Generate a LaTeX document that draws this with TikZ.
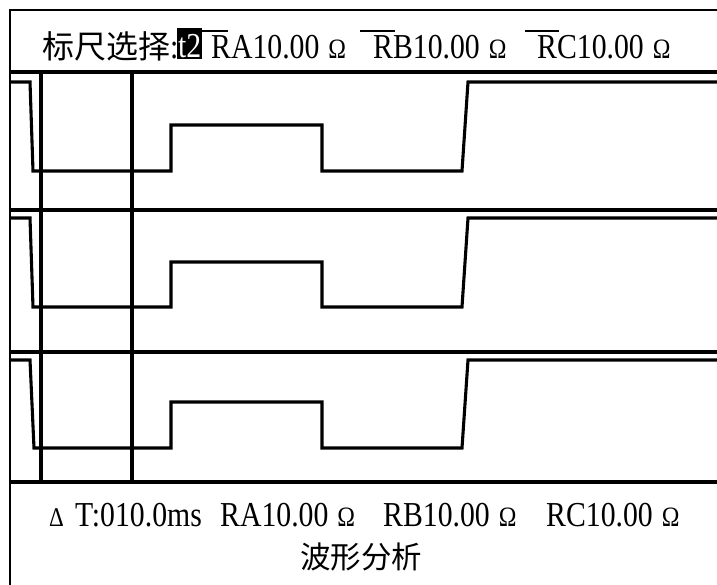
\documentclass[tikz,border=0pt]{standalone}
\usepackage{fontspec}
\setmainfont{Liberation Serif}[FakeStretch=0.85]
\newfontfamily\cjk{Noto Sans CJK SC}
\tikzset{
    frame/.style={
        line width=1.4pt,
        draw=black,
    },
    divider/.style={
        line width=3.4pt,
        draw=black,
    },
    cursor/.style={
        line width=3.2pt,
        draw=black,
    },
    wave/.style={
        line width=3.1pt,
        draw=black,
        line join=miter,
    },
    bar/.style={
        line width=2.8pt,
        draw=black,
    },
    readout/.style={
        anchor=base west,
        inner sep=0pt,
        font=\fontsize{35}{38}\selectfont,
    },
    small/.style={
        anchor=base west,
        inner sep=0pt,
        font=\fontsize{27}{30}\selectfont,
    },
    hanzi/.style={
        anchor=base west,
        inner sep=0pt,
        font=\cjk\fontsize{32}{36}\selectfont,
    },
}
\newcommand{\ohmsign}{{\fontsize{28}{30}\selectfont Ω}}

\begin{document}
\begin{tikzpicture}[x=1pt, y=-1pt]
      \useasboundingbox (0,0) rectangle (717,585);

      \draw[frame] (717,10) -- (10,10) -- (10,585);

      \draw[divider] (10,72) -- (717,72);
      \draw[divider] (10,210) -- (717,210);
      \draw[divider] (10,352) -- (717,352);
      \draw[divider] (10,482) -- (717,482);

      \draw[cursor] (41,72) -- (41,482);
      \draw[cursor] (132,72) -- (132,482);

      \draw[wave] (10,82) -- (30,82) -- (33,171) -- (171,171) -- (171,125) -- (322,125)
            -- (322,171) -- (462,171) -- (468,82) -- (717,82);
      \draw[wave] (10,218) -- (30,218) -- (33,307) -- (171,307) -- (171,262) -- (322,262)
            -- (322,307) -- (462,307) -- (468,218) -- (717,218);
      \draw[wave] (10,360) -- (30,360) -- (34,448) -- (171,448) -- (171,402) -- (322,402)
            -- (322,448) -- (462,448) -- (468,360) -- (717,360);

      \node[hanzi] (title) at (42,59) {标尺选择{\rmfamily\fontsize{35}{38}\selectfont :}};
      \node[readout, fill=black, text=white, inner xsep=1pt, text height=30pt, text depth=1pt] (sel) at (177,58) {t2};
      \node[readout] (ra) at (211,59) {RA10.00\hspace{9pt}\ohmsign};
      \node[readout] (rb) at (373,59) {RB10.00\hspace{9pt}\ohmsign};
      \node[readout] (rc) at (537,59) {RC10.00\hspace{9pt}\ohmsign};

      \draw[bar] (202,31) -- (228,31);
      \draw[bar] (360,31) -- (395,31);
      \draw[bar] (525,31) -- (559,31);

      \node[small] (delta) at (49,526) {Δ};
      \node[readout] (dt) at (75,526) {T:010.0ms};
      \node[readout] (ra2) at (220,526) {RA10.00\hspace{9pt}\ohmsign};
      \node[readout] (rb2) at (383,526) {RB10.00\hspace{9pt}\ohmsign};
      \node[readout] (rc2) at (546,526) {RC10.00\hspace{9pt}\ohmsign};

      \node[hanzi, font=\cjk\fontsize{30.5}{34}\selectfont] (mode) at (300,568) {波形分析};

    \end{tikzpicture}
\end{document}
